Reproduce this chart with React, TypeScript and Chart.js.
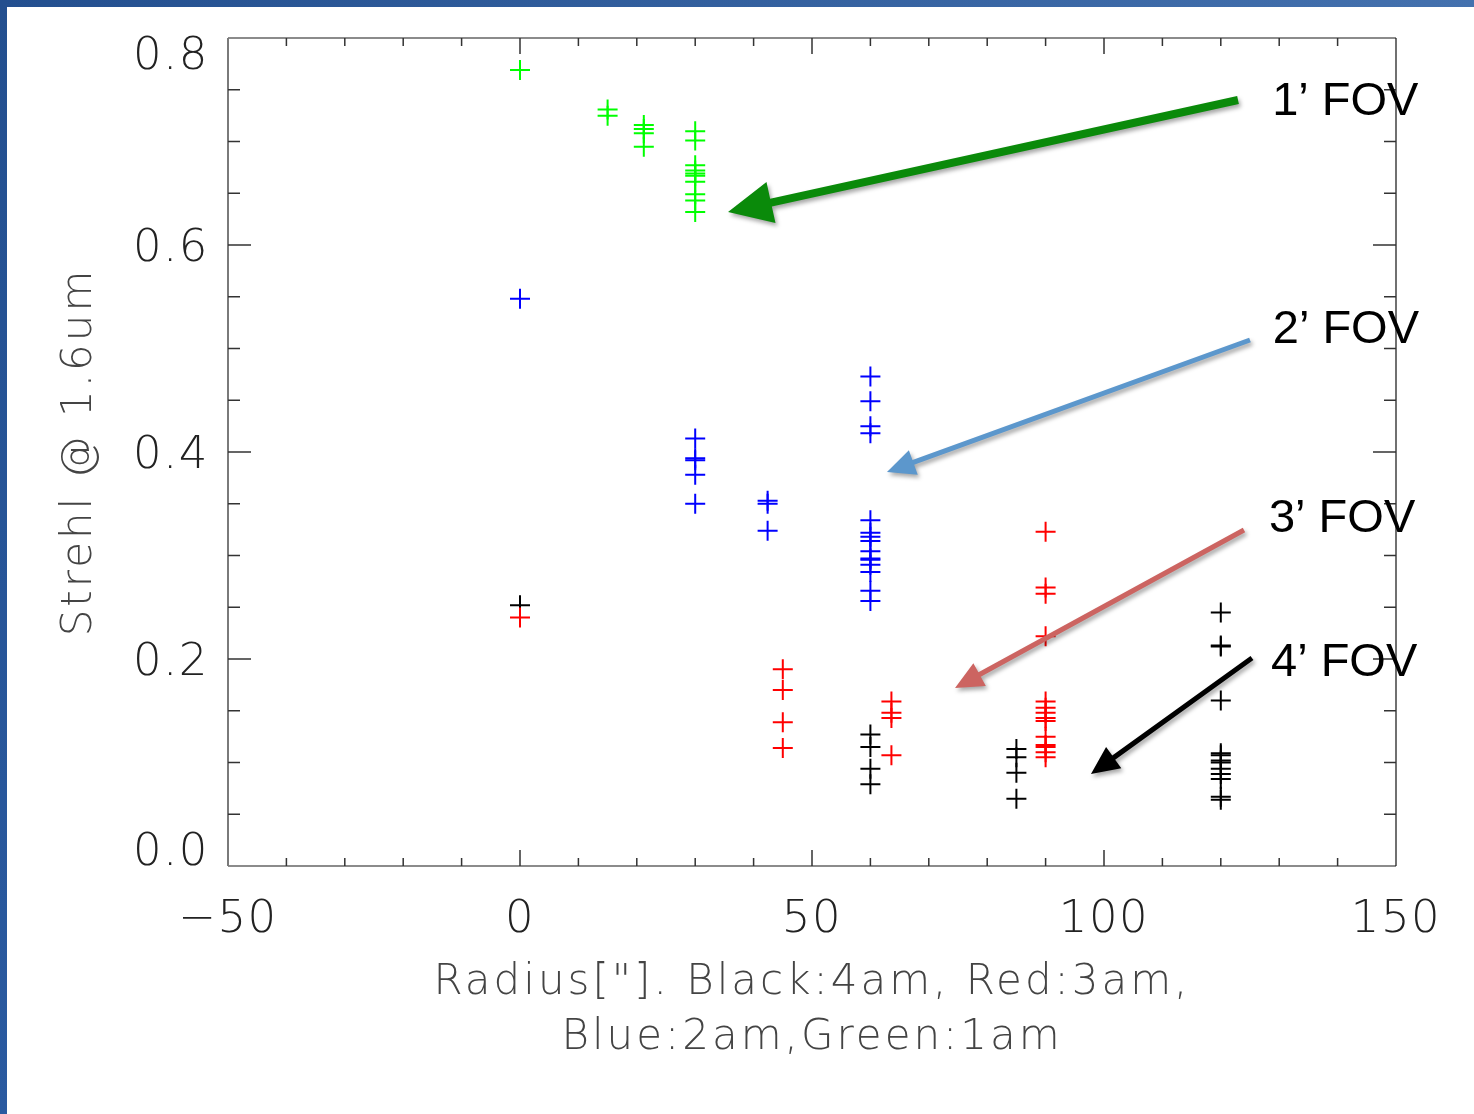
import React, { useEffect, useRef } from "react";
import { Chart, registerables } from "chart.js";

Chart.register(...registerables);

// ---- Data (Radius in arcsec, Strehl @ 1.6um) ----
const greenRadius = [0, 15, 15, 21.2, 21.2, 21.2, 21.2, 30, 30, 30, 30, 30, 30, 30, 30, 30, 30];
const greenStrehl = [0.769, 0.731, 0.725, 0.716, 0.712, 0.708, 0.695, 0.710, 0.701, 0.677, 0.672, 0.669, 0.667, 0.661, 0.649, 0.643, 0.632];

const blueRadius = [0, 30, 30, 30, 30, 30, 42.4, 42.4, 42.4, 60, 60, 60, 60, 60, 60, 60, 60, 60, 60, 60, 60, 60, 60, 60];
const blueStrehl = [0.548, 0.413, 0.394, 0.392, 0.378, 0.350, 0.353, 0.350, 0.324, 0.473, 0.449, 0.425, 0.418, 0.334, 0.322, 0.318, 0.314, 0.304, 0.297, 0.296, 0.291, 0.284, 0.266, 0.256];

const redRadius = [0, 45, 45, 45, 45, 63.6, 63.6, 63.6, 63.6, 90, 90, 90, 90, 90, 90, 90, 90, 90, 90, 90, 90, 90, 90];
const redStrehl = [0.240, 0.190, 0.170, 0.139, 0.114, 0.159, 0.148, 0.143, 0.107, 0.323, 0.269, 0.263, 0.222, 0.159, 0.153, 0.148, 0.143, 0.140, 0.125, 0.117, 0.115, 0.110, 0.105];

const blackRadius = [0, 60, 60, 60, 60, 85, 85, 85, 85, 120, 120, 120, 120, 120, 120, 120, 120, 120, 120, 120, 120, 120];
const blackStrehl = [0.252, 0.127, 0.115, 0.094, 0.079, 0.113, 0.105, 0.090, 0.065, 0.245, 0.213, 0.212, 0.160, 0.109, 0.107, 0.102, 0.100, 0.094, 0.089, 0.084, 0.067, 0.064];

const xRange = [-50, 150];
const yRange = [0, 0.8];
const xMajorStep = 50;
const yMajorStep = 0.2;

const xTitleLines = ['Radius["]. Black:4am, Red:3am,', "Blue:2am,Green:1am"];
const yTitleText = "Strehl @ 1.6um";

// annotations (data coordinates)
const fovLabels = ["1\u2019 FOV", "2\u2019 FOV", "3\u2019 FOV", "4\u2019 FOV"];
const fovLabelX = [128.8, 128.9, 128.25, 128.6];
const fovLabelY = [0.7256, 0.5053, 0.3227, 0.1836];
const arrowStartX = [122.95, 125.0, 123.97, 125.34];
const arrowStartY = [0.7401, 0.5082, 0.3246, 0.201];
const arrowTipX = [35.62, 62.84, 74.49, 97.77];
const arrowTipY = [0.6319, 0.3807, 0.172, 0.0889];
const arrowColors = ["#0a8a0a", "#5c97cc", "#cc6461", "#000000"];

const FONT = '"DejaVu Sans", "Noto Sans", sans-serif';

function zip(xs: number[], ys: number[]) {
  return xs.map((x, i) => ({ x, y: ys[i] }));
}

function drawArrow(ctx: CanvasRenderingContext2D, x1: number, y1: number, x2: number, y2: number, w: number, headLen: number, headHalf: number, color: string) {
  const dx = x2 - x1, dy = y2 - y1;
  const len = Math.hypot(dx, dy);
  const ux = dx / len, uy = dy / len;
  const px = -uy, py = ux;
  const bx = x2 - ux * headLen, by = y2 - uy * headLen;
  ctx.beginPath();
  ctx.moveTo(x1 + px * w / 2, y1 + py * w / 2);
  ctx.lineTo(bx + px * w / 2, by + py * w / 2);
  ctx.lineTo(bx + px * headHalf, by + py * headHalf);
  ctx.lineTo(x2, y2);
  ctx.lineTo(bx - px * headHalf, by - py * headHalf);
  ctx.lineTo(bx - px * w / 2, by - py * w / 2);
  ctx.lineTo(x1 - px * w / 2, y1 - py * w / 2);
  ctx.closePath();
  ctx.fillStyle = color;
  ctx.fill();
}

const framePlugin = {
  id: "framePlugin",
  beforeDraw(chart: any) {
    const ctx = chart.ctx as CanvasRenderingContext2D;
    Object.values(chart.scales).forEach((s: any) => {
      if (s.__patched) return;
      s.__patched = true;
      const origTitle = s.drawTitle.bind(s);
      s.drawTitle = function () {
        const c = this.ctx;
        c.letterSpacing = "3px";
        origTitle();
        c.letterSpacing = "0px";
      };
      const origLabels = s.drawLabels.bind(s);
      s.drawLabels = function (area: any) {
        const c = this.ctx;
        c.letterSpacing = "1.5px";
        origLabels(area);
        c.letterSpacing = "0px";
      };
    });
    ctx.save();
    const W = chart.width, H = chart.height;
    const g = ctx.createLinearGradient(0, 0, W, 0);
    g.addColorStop(0, "#234f8f");
    g.addColorStop(1, "#4471ae");
    ctx.fillStyle = g;
    ctx.fillRect(0, 0, W, 7);
    const g2 = ctx.createLinearGradient(0, 0, 0, H);
    g2.addColorStop(0, "#234f8f");
    g2.addColorStop(1, "#2a5aa0");
    ctx.fillStyle = g2;
    ctx.fillRect(0, 0, 7, H);
    ctx.restore();
  },
  beforeDatasetsDraw(chart: any) {
    const ctx = chart.ctx as CanvasRenderingContext2D;
    const { left, right, top, bottom } = chart.chartArea;
    const xs = chart.scales.x, ys = chart.scales.y;
    ctx.save();
    ctx.lineCap = "butt";
    ctx.strokeStyle = "#666";
    ctx.lineWidth = 1.5;
    ctx.beginPath();
    ctx.moveTo(left, top); ctx.lineTo(right, top);
    ctx.moveTo(left, bottom); ctx.lineTo(right, bottom);
    ctx.stroke();
    ctx.lineWidth = 2;
    ctx.strokeStyle = "#7a7a7a";
    ctx.beginPath();
    ctx.moveTo(left, top); ctx.lineTo(left, bottom);
    ctx.stroke();
    ctx.lineWidth = 1.2;
    ctx.strokeStyle = "#111";
    ctx.beginPath();
    ctx.moveTo(right, top); ctx.lineTo(right, bottom);
    ctx.stroke();
    ctx.strokeStyle = "#333";
    ctx.lineWidth = 1.5;
    ctx.beginPath();
    const xMinor = xMajorStep / 5;
    for (let v = xRange[0] + xMinor; v < xRange[1] - 1e-9; v += xMinor) {
      const p = xs.getPixelForValue(v);
      const major = Math.abs(v / xMajorStep - Math.round(v / xMajorStep)) < 1e-6;
      const len = major ? 16 : 8;
      ctx.moveTo(p, bottom); ctx.lineTo(p, bottom - len);
      ctx.moveTo(p, top); ctx.lineTo(p, top + len);
    }
    const yMinor = yMajorStep / 4;
    for (let v = yRange[0] + yMinor; v < yRange[1] - 1e-9; v += yMinor) {
      const p = ys.getPixelForValue(v);
      const major = Math.abs(v / yMajorStep - Math.round(v / yMajorStep)) < 1e-6;
      const len = major ? 23 : 12;
      ctx.moveTo(left, p); ctx.lineTo(left + len, p);
      ctx.moveTo(right, p); ctx.lineTo(right - len, p);
    }
    ctx.stroke();
    ctx.restore();
  },
  afterDraw(chart: any) {
    const ctx = chart.ctx as CanvasRenderingContext2D;
    const xs = chart.scales.x, ys = chart.scales.y;
    ctx.save();
    ctx.shadowColor = "rgba(0,0,0,0.35)";
    ctx.shadowBlur = 4;
    ctx.shadowOffsetX = 2;
    ctx.shadowOffsetY = 3;
    for (let i = 0; i < arrowStartX.length; i++) {
      const x1 = xs.getPixelForValue(arrowStartX[i]);
      const y1 = ys.getPixelForValue(arrowStartY[i]);
      const x2 = xs.getPixelForValue(arrowTipX[i]);
      const y2 = ys.getPixelForValue(arrowTipY[i]);
      if (i === 0) drawArrow(ctx, x1, y1, x2, y2, 8, 44, 21, arrowColors[i]);
      else drawArrow(ctx, x1, y1, x2, y2, 5, 28, 13, arrowColors[i]);
    }
    ctx.restore();
    ctx.save();
    ctx.fillStyle = "#000";
    ctx.font = '47px "Liberation Sans", Arial, sans-serif';
    ctx.textAlign = "left";
    ctx.textBaseline = "alphabetic";
    for (let i = 0; i < fovLabels.length; i++) {
      ctx.fillText(fovLabels[i], xs.getPixelForValue(fovLabelX[i]), ys.getPixelForValue(fovLabelY[i]));
    }
    ctx.restore();
  },
};

export default function App() {
  const canvasRef = useRef<HTMLCanvasElement | null>(null);

  useEffect(() => {
    const canvas = canvasRef.current;
    if (!canvas) return;
    const mk = (xs: number[], ys: number[], color: string) => ({
      data: zip(xs, ys),
      borderColor: color,
      backgroundColor: color,
      pointStyle: "cross",
      pointRadius: 10,
      pointHoverRadius: 10,
      pointBorderWidth: 2,
      showLine: false,
    });
    const chart = new Chart(canvas, {
      type: "scatter",
      data: {
        datasets: [
          mk(redRadius, redStrehl, "#ff0000"),
          mk(blackRadius, blackStrehl, "#000000"),
          mk(blueRadius, blueStrehl, "#0000ff"),
          mk(greenRadius, greenStrehl, "#00ff00"),
        ] as any,
      },
      options: {
        animation: false,
        responsive: false,
        devicePixelRatio: 1,
        layout: { padding: { left: 0, top: 38, right: 78, bottom: 0 } },
        plugins: { legend: { display: false }, tooltip: { enabled: false } },
        events: [],
        scales: {
          x: {
            type: "linear",
            min: xRange[0],
            max: xRange[1],
            grid: { display: false, drawTicks: false },
            border: { display: false },
            afterFit: (s: any) => {
              s.height = 248;
              s.paddingLeft = 0;
              s.paddingRight = 0;
            },
            ticks: {
              stepSize: xMajorStep,
              padding: 27,
              maxRotation: 0,
              color: "#222",
              font: { family: FONT, size: 45, weight: 200 },
              callback: (v: any) => (Number(v) < 0 ? "\u2212" + Math.abs(Number(v)) : String(v)),
            },
            title: {
              display: true,
              text: xTitleLines,
              color: "#444",
              font: { family: FONT, size: 42, weight: 200, lineHeight: "55px" },
              padding: { top: 0, bottom: 48.5 },
            },
          },
          y: {
            type: "linear",
            min: yRange[0],
            max: yRange[1],
            grid: { display: false, drawTicks: false },
            border: { display: false },
            afterFit: (s: any) => {
              s.width = 228;
              s.paddingTop = 0;
              s.paddingBottom = 0;
            },
            ticks: {
              stepSize: yMajorStep,
              padding: 19,
              labelOffset: 4,
              color: "#222",
              font: (c: any) => {
                const v = c && c.tick ? Number(c.tick.value) : 0.4;
                const lh = Math.abs(v - yRange[0]) < 1e-6 ? "34px" : "30px";
                return { family: FONT, size: 45, weight: 200, lineHeight: lh };
              },
              callback: (v: any) => {
                const n = Number(v);
                const s = n.toFixed(1);
                if (Math.abs(n - yRange[1]) < 1e-6) return ["", s];
                if (Math.abs(n - yRange[0]) < 1e-6) return [s, ""];
                return s;
              },
            },
            title: {
              display: true,
              text: yTitleText,
              color: "#444",
              font: { family: FONT, size: 42, weight: 200, lineHeight: "50px" },
              padding: { top: 55, bottom: 0 },
            },
          },
        },
      } as any,
      plugins: [framePlugin as any],
    });
    return () => chart.destroy();
  }, []);

  return (
    <div style={{ position: "fixed", left: 0, top: 0, width: 1474, height: 1114, background: "#fff" }}>
      <canvas ref={canvasRef} width={1474} height={1114} style={{ display: "block" }} />
    </div>
  );
}
